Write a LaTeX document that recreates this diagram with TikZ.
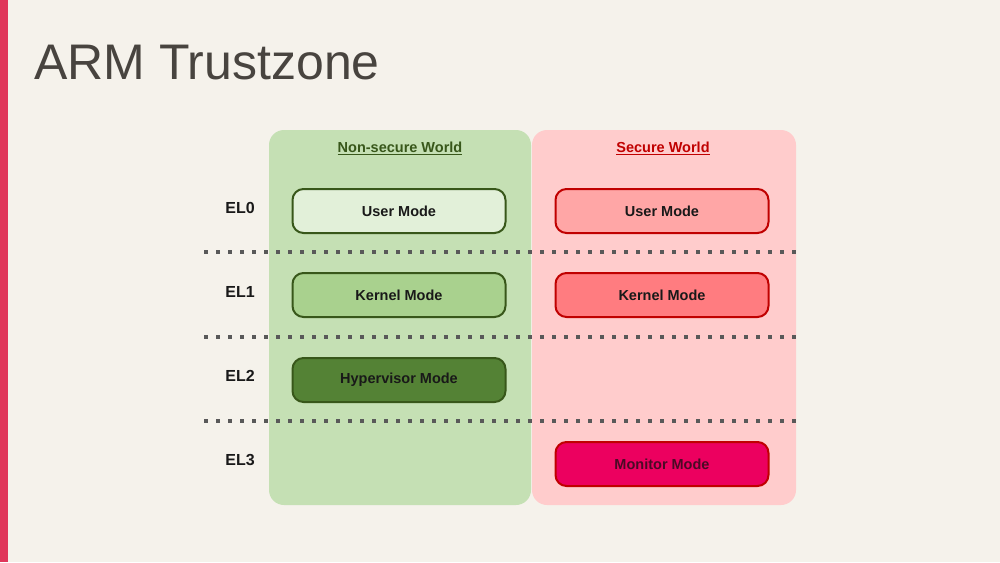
\documentclass[tikz,border=0pt]{standalone}
\usepackage{fontspec}
\setmainfont{Liberation Sans}
\definecolor{bgc}{HTML}{F5F2EB}
\definecolor{barc}{HTML}{E0365A}
\definecolor{titlec}{HTML}{48443F}
\definecolor{gpanel}{HTML}{C5E0B4}
\definecolor{rpanel}{HTML}{FFCCCC}
\definecolor{gdark}{HTML}{38571A}
\definecolor{rdark}{HTML}{C00000}
\definecolor{gUser}{HTML}{E2F0D9}
\definecolor{gKern}{HTML}{A9D18E}
\definecolor{gHyp}{HTML}{548235}
\definecolor{rUser}{HTML}{FFA6A6}
\definecolor{rKern}{HTML}{FF7C80}
\definecolor{rMon}{HTML}{EC005F}
\definecolor{dotc}{HTML}{595959}
\definecolor{montext}{HTML}{4A0A25}
\tikzset{
  panel/.style={rounded corners=15pt, draw=none},
  modebox/.style={rounded corners=11pt, line width=2pt, minimum width=213pt, minimum height=44pt, inner sep=0pt, font=\fontsize{14.5}{16}\selectfont\bfseries, text=black!90},
  gmode/.style={modebox, draw=gdark},
  rmode/.style={modebox, draw=rdark},
  ellabel/.style={font=\fontsize{16}{18}\selectfont\bfseries, text=black!90},
  worldlabel/.style={font=\fontsize{14.5}{16}\selectfont\bfseries},
  dotline/.style={dotc, line width=3.6pt, dash pattern=on 3.6pt off 8.4pt},
}
\begin{document}
\begin{tikzpicture}[x=1pt,y=-1pt]
\useasboundingbox (0,0) rectangle (1000,562);
\fill[bgc] (0,0) rectangle (1000,562);
\fill[barc] (0,0) rectangle (8,562);
\node[anchor=base west, inner sep=0pt, text=titlec, font=\fontsize{50}{56}\selectfont] (title) at (34,79) {ARM Trustzone};
% panels
\fill[panel, gpanel] (269,130) rectangle (531,505);
\fill[panel, rpanel] (532,130) rectangle (796,505);
\node[worldlabel, text=gdark] (nsw) at (400,148) {\underline{Non-secure World}};
\node[worldlabel, text=rdark] (sw) at (663,148) {\underline{Secure World}};
% dotted separators
\coordinate (d1a) at (204,252); \coordinate (d1b) at (796,252);
\coordinate (d2a) at (204,337); \coordinate (d2b) at (796,337);
\coordinate (d3a) at (204,421); \coordinate (d3b) at (796,421);
\draw[dotline] (d1a) -- (d1b);
\draw[dotline] (d2a) -- (d2b);
\draw[dotline] (d3a) -- (d3b);
% EL labels
\node[ellabel] (el0) at (240,208) {EL0};
\node[ellabel] (el1) at (240,292) {EL1};
\node[ellabel] (el2) at (240,376) {EL2};
\node[ellabel] (el3) at (240,460) {EL3};
% modes
\node[gmode, fill=gUser] (guser) at (399,211) {User Mode};
\node[gmode, fill=gKern] (gkern) at (399,295) {Kernel Mode};
\node[gmode, fill=gHyp] (ghyp) at (399,380) {Hypervisor Mode};
\node[rmode, fill=rUser] (ruser) at (662,211) {User Mode};
\node[rmode, fill=rKern] (rkern) at (662,295) {Kernel Mode};
\node[rmode, fill=rMon, text=montext] (rmon) at (662,464) {Monitor Mode};
\end{tikzpicture}
\end{document}
